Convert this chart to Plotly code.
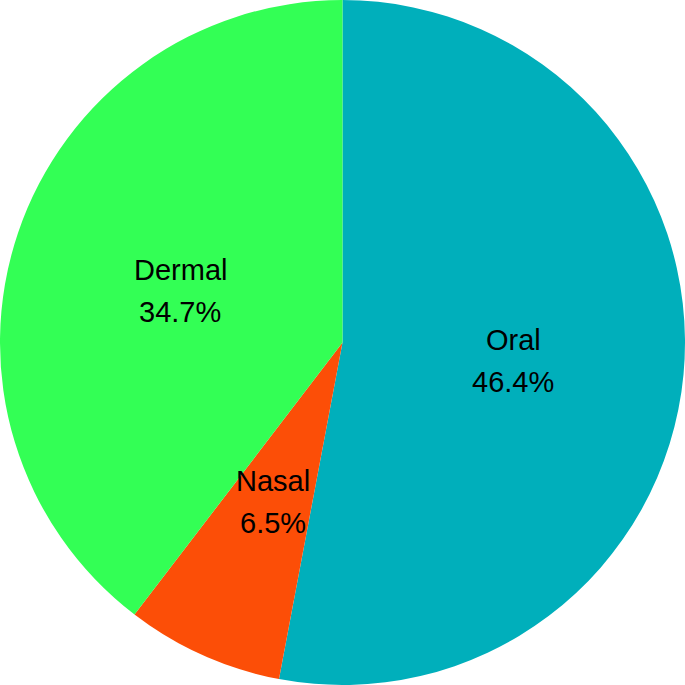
import math

import plotly.graph_objects as go

routes = ["Oral", "Nasal", "Dermal"]
shares = [46.4, 6.5, 34.7]
colors = ["#00AFBB", "#FC4E07", "#33FF55"]

FONT = dict(family="Liberation Sans, Arial, sans-serif", size=29, color="black")

fig = go.Figure(
    go.Pie(
        labels=routes,
        values=shares,
        text=[f"{s}%" for s in shares],
        textinfo="none",
        marker=dict(colors=colors, line=dict(width=0)),
        sort=False,
        direction="clockwise",
        rotation=0,
        hoverinfo="label+text",
        showlegend=False,
        domain=dict(x=[0, 1], y=[0, 1]),
    )
)

# labels sit at half the radius, on the middle angle of each slice
total = sum(shares)
cum = 0.0
for route, share in zip(routes, shares):
    theta = 2 * math.pi * (cum + share / 2) / total
    cum += share
    x = 0.5 + 0.25 * math.sin(theta)
    y = 0.5 + 0.25 * math.cos(theta)
    for txt, shift in ((route, 18), (f"{share}%", -24)):
        fig.add_annotation(
            x=x, y=y, xref="paper", yref="paper",
            xanchor="center", yanchor="middle",
            text=txt, showarrow=False, yshift=shift, font=FONT,
        )

fig.update_layout(
    width=685,
    height=685,
    margin=dict(l=0, r=0, t=0, b=0),
    paper_bgcolor="white",
)

# drop the default 8px body margin so the pie fills the window
fig.write_html(
    "out.html",
    config={"displayModeBar": False},
    post_script="document.body.style.margin='0';",
)
